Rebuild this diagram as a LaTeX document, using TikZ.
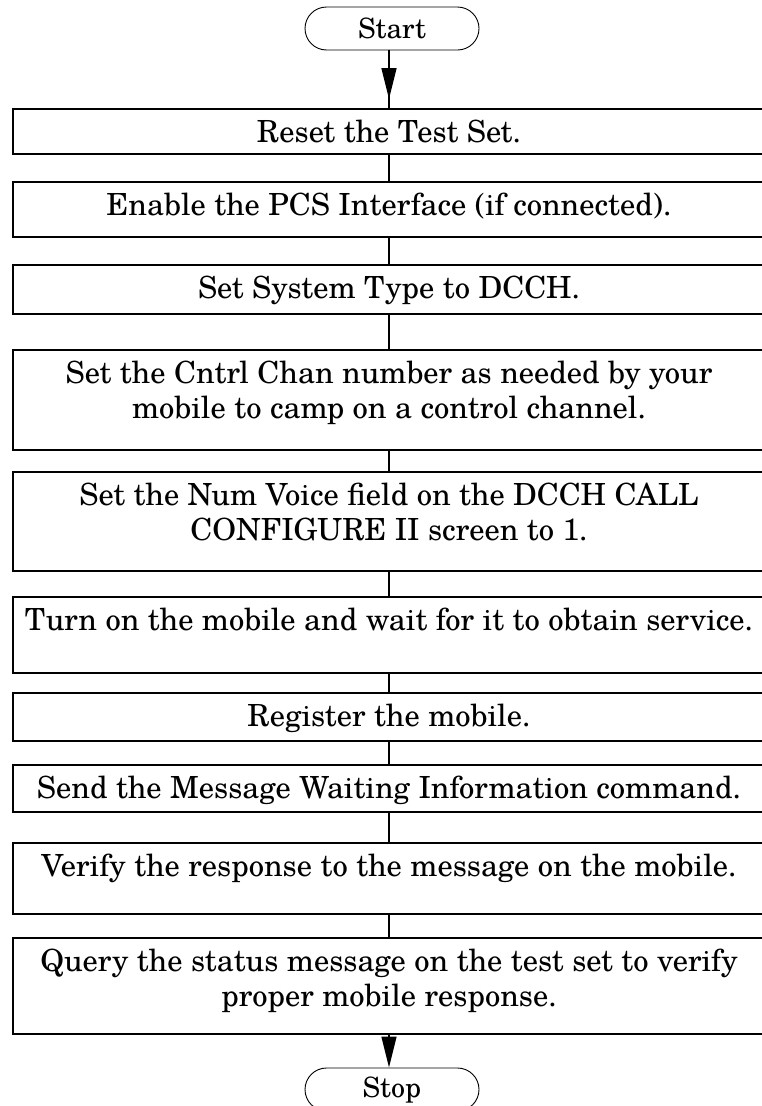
\documentclass[tikz,border=0pt]{standalone}
\usepackage{fontspec}
\setmainfont{TeX Gyre Schola}
\usetikzlibrary{arrows.meta,shapes.misc,positioning}

\begin{document}
\begin{tikzpicture}[x=1pt,y=-1pt,
    stepbox/.style={draw,line width=2pt,minimum width=752pt,inner xsep=0pt,inner ysep=0pt,
      anchor=north,align=center,font=\fontsize{30.5}{35}\selectfont},
    term/.style={draw,rounded rectangle,line width=0.9pt,minimum width=174pt,minimum height=43pt,
      inner sep=0pt,font=\fontsize{28}{30}\selectfont},
    link/.style={line width=1.6pt},
    flow/.style={link,-{Triangle[length=31pt,width=15pt]}}]
  \clip (0,0) rectangle (762,1106);
  \node[term] (start) at (392,28.5) {Start};
  % the steps: top edge / text height / extra depth below the text
  \foreach \n/\y/\h/\d/\txt in {
      b1/108/33/12/{Reset the Test Set.},
      b2/181/33/22/{Enable the PCS Interface (if connected).},
      b3/264/33/16/{Set System Type to DCCH.},
      b4/349/68/32/{Set the Cntrl Chan number as needed by your\\mobile to camp on a control channel.},
      b5/471/68/31/{Set the Num Voice field on the DCCH CALL\\CONFIGURE II screen to 1.},
      b6/596/33/43/{Turn on the mobile and wait for it to obtain service.},
      b7/692/33/15/{Register the mobile.},
      b8/764/33/14/{Send the Message Waiting Information command.},
      b9/842/33/38/{Verify the response to the message on the mobile.},
      b10/937/68/28/{Query the status message on the test set to verify\\proper mobile response.}}{
    \node[stepbox,text height=\h pt,text depth=\d pt] (\n) at (389,\y) {\txt};
  }
  \node[term] (stop) at (392,1089.5) {Stop};
  \draw[link] (start.south -| b1.north) -- (b1.north);
  \draw[flow] (start.south -| b1.north) -- ([yshift=9pt]b1.north);
  \foreach \a/\b in {b1/b2,b2/b3,b3/b4,b4/b5,b5/b6,b6/b7,b7/b8,b8/b9,b9/b10}{
    \draw[link] (\a.south) -- (\b.north);
  }
  \draw[flow] (b10.south) -- (b10.south |- stop.north);
\end{tikzpicture}
\end{document}
